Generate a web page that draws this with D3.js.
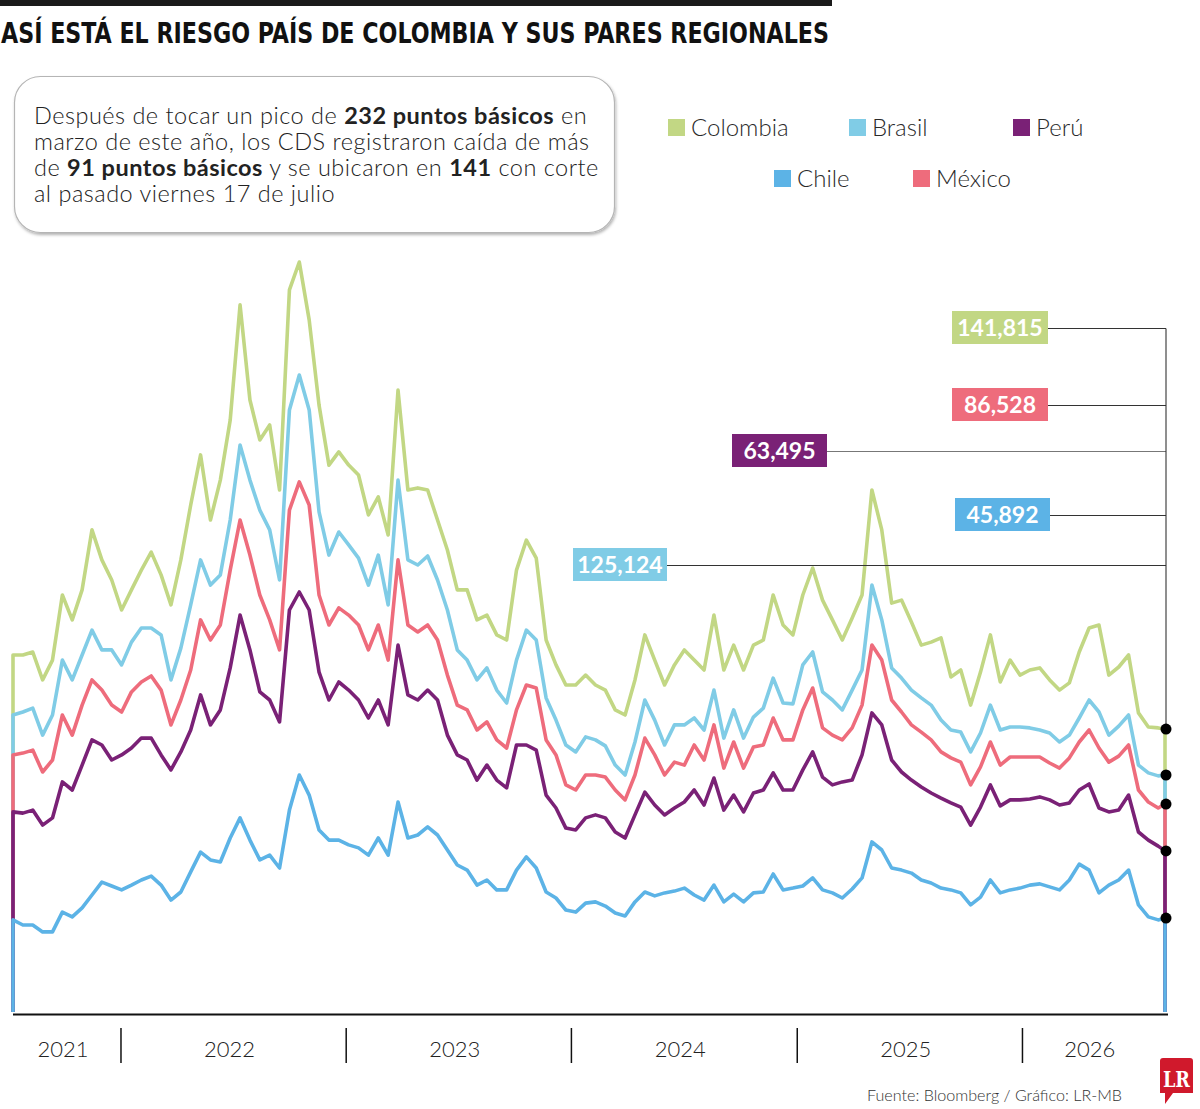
<!DOCTYPE html>
<html>
<head>
<meta charset="utf-8">
<script src="https://cdn.jsdelivr.net/npm/d3@7"></script>
<style>
  body { margin: 0; background: #fff; }
  svg { display: block; }
  .light { font-family: Lato, "Open Sans", sans-serif; font-weight: 300; fill: #222; }
</style>
</head>
<body>
<div id="chart"></div>
<script>
// series values, one every 16 days from 10 Jul 2021, last one on the closing date
const colombia = [119, 119, 120, 110.7, 117.3, 139, 130.7, 140.7, 160.7, 150.7,
  144, 134, 140.7, 147.3, 153.3, 145.7, 135.7, 150.7, 169, 185.7,
  164, 177.3, 197.3, 235.7, 204, 190.7, 195.7, 174, 240.7, 250,
  230.7, 202.3, 182.3, 186.7, 182.3, 179, 165.7, 171.7, 159, 207.3,
  174, 174.7, 174, 164, 154, 140.7, 140.7, 130.7, 132.3, 125.7,
  124, 147.3, 157.3, 151.3, 124, 115.7, 109, 109, 112.3, 109,
  107.3, 100.7, 99, 110.7, 125.7, 117.3, 109, 115.7, 120.7, 117.3,
  114, 132.3, 114, 122.3, 114, 122.3, 124, 139, 129, 125.7,
  139, 148, 137.3, 130.7, 124, 131.3, 139, 174, 160.7, 136.3,
  137.3, 130, 122.3, 123.3, 124.7, 111.7, 114, 102.3, 113.3, 125.7,
  110, 117.3, 112.3, 114, 114.7, 110.7, 107.3, 109.7, 120, 128,
  129, 112.3, 115, 119, 99.7, 95, 94.7, 94.3];

const brasil = [99, 100, 101.3, 92.3, 99, 117.3, 110.7, 119, 127.3, 120.7,
  120.7, 115.7, 123.3, 128, 128, 125.7, 110.7, 121.3, 135.7, 150.7,
  142.3, 145.7, 164, 189, 177.3, 167.3, 160.7, 144, 200.7, 212.3,
  200.7, 166.7, 152.3, 160, 155.7, 151.3, 142.3, 152.3, 135.7, 177.3,
  150.7, 149, 152, 144, 134, 120.7, 117.3, 110.7, 114.7, 107.3,
  103, 117.3, 127.3, 124, 104.7, 97.3, 89, 86.7, 91.7, 90.7,
  88.7, 82.3, 79, 90, 104, 97.3, 89, 95.7, 95.7, 98,
  94, 107.3, 91.3, 100.7, 91.3, 98.3, 101.3, 111.3, 103, 102.7,
  115.7, 120, 106.7, 104, 100.7, 107.3, 114, 142.3, 130.7, 114.7,
  111.3, 107.3, 104.7, 102.3, 97.3, 94, 93.3, 86.7, 93, 102.3,
  94, 95, 95, 94.7, 94, 93, 90, 92.3, 98, 104,
  100, 92.3, 95.3, 99, 82.3, 79.7, 78.7, 79];

const mexico = [85.7, 86.3, 87.3, 80, 84, 99, 92.3, 102.3, 110.7, 107.3,
  102.3, 100, 106.7, 110, 112, 107.3, 95.7, 104, 114, 130.7,
  124, 129, 147.3, 164, 152.3, 139, 130.7, 120.7, 167.3, 176.7,
  169, 139, 129, 134.7, 132.3, 129, 120.7, 129, 117.3, 150.7,
  129, 126.7, 129, 124, 112.3, 102.3, 100.7, 94, 96.7, 90.7,
  88, 100.7, 109, 108, 90.7, 85.7, 75.7, 74, 79, 79,
  78.3, 74, 70.7, 79, 91.3, 85.7, 79, 83.3, 82.3, 89,
  84, 95.7, 81.3, 90, 81.3, 88.3, 89, 98, 90.7, 90.7,
  100.7, 108, 94.7, 92.3, 90.7, 94.7, 102.3, 122.3, 117.3, 104,
  100, 95.7, 93.3, 90.7, 86.7, 84.7, 83.3, 75.7, 81.7, 90,
  82.3, 85, 85, 85, 85, 83, 81.3, 84.7, 90, 94,
  88, 83.3, 85.3, 89, 74, 70, 68, 69.3];

const peru = [66.7, 66.3, 67.3, 62.3, 64.7, 76.7, 74, 82.3, 90.7, 89,
  84, 85.7, 88, 91.3, 91.3, 85.7, 80.7, 86.7, 94, 105.7,
  95.7, 100.7, 114.7, 132.3, 120.7, 106.7, 104, 96.7, 134, 140,
  134, 113.3, 104, 110, 107.3, 104, 98, 104, 95.7, 122.3,
  105.7, 104, 107.3, 104, 92.3, 85.7, 84, 77.3, 82.3, 77.3,
  74.7, 89, 89, 87.3, 72.3, 68, 61.3, 60.7, 64.7, 65.7,
  64.7, 60, 58, 65.7, 73.3, 69, 65.7, 68, 70, 74,
  69, 78, 67.3, 72.3, 66.7, 73, 74, 79.7, 74, 74,
  80.7, 86.7, 78.3, 75.7, 76.7, 77.3, 85.7, 99.7, 95.7, 84,
  80, 77.3, 75, 73, 71.3, 69.7, 68.3, 62.3, 68.3, 75.7,
  68.7, 70.7, 70.7, 71, 71.7, 70.7, 69, 69.7, 74, 76,
  68, 66.7, 67.3, 72.3, 60, 57.3, 55.3, 53.7];

const chile = [30.7, 29, 29, 26.7, 26.7, 33.3, 31.7, 34.7, 39, 43.3,
  42, 40.7, 42.3, 44, 45.3, 42.3, 37.3, 40, 46.7, 53.3,
  50.7, 50, 58, 64.7, 57.3, 50.7, 52.3, 48, 67.3, 79,
  72.3, 60.7, 57.3, 57.3, 55.7, 54.7, 52.3, 58, 52.3, 70,
  58, 59, 61.7, 59, 54, 49, 47.3, 42.3, 44, 40.7,
  40.7, 47.3, 51.7, 48, 40, 38, 34, 33.3, 36.3, 36.7,
  35.3, 33, 32, 36.7, 40, 38.7, 39.7, 40.3, 41.3, 39,
  37.3, 42.3, 36.7, 39.3, 36.7, 39.7, 40, 46, 40.7, 41.3,
  42, 44.7, 40.7, 39.7, 38, 41, 44.7, 56.7, 54, 48,
  47.3, 46.3, 44, 43, 41.3, 40.7, 39.7, 35.7, 38.3, 44,
  39.7, 40.7, 41.3, 42.3, 42.7, 41.7, 40.7, 44, 49.3, 47.3,
  39.7, 42.3, 44, 47.3, 35.7, 31.7, 30.7, 31.3];

const startDate = new Date(2021, 6, 10);
const endDate = new Date(2026, 7, 20);
const dates = d3.range(colombia.length - 1).map(i => d3.timeDay.offset(startDate, i * 16)).concat([endDate]);

const years = [2021, 2022, 2023, 2024, 2025, 2026];
const legendNames = ["Colombia", "Brasil", "Perú", "Chile", "México"];
const endLabels = ["141,815", "86,528", "63,495", "45,892", "125,124"];

const C = {
  colombia: "#c2d784",
  brasil: "#80cce6",
  peru: "#7a2176",
  chile: "#5cb3e6",
  mexico: "#ee6c7c"
};

const W = 1200, H = 1109;
const svg = d3.select("#chart").append("svg").attr("width", W).attr("height", H);

const defs = svg.append("defs");
const f = defs.append("filter").attr("id", "shadow").attr("x", "-5%").attr("y", "-5%").attr("width", "110%").attr("height", "120%");
f.append("feDropShadow").attr("dx", 1).attr("dy", 2).attr("stdDeviation", 1.5).attr("flood-color", "#000").attr("flood-opacity", 0.3);

// header
svg.append("rect").attr("x", 0).attr("y", 0).attr("width", 832).attr("height", 6).attr("fill", "#1a1a1a");
svg.append("text")
  .attr("x", 1).attr("y", 43)
  .attr("textLength", 828).attr("lengthAdjust", "spacingAndGlyphs")
  .style("font-family", "'Liberation Sans Narrow', 'DejaVu Sans Condensed', sans-serif")
  .style("font-weight", 700).style("font-size", "29px").style("fill", "#111")
  .text("ASÍ ESTÁ EL RIESGO PAÍS DE COLOMBIA Y SUS PARES REGIONALES");

// text box
svg.append("rect").attr("x", 14.5).attr("y", 76.5).attr("width", 600).attr("height", 156).attr("rx", 26)
  .attr("fill", "#fff").attr("stroke", "#b5b5b5").attr("stroke-width", 1.2).attr("filter", "url(#shadow)");

const boxLines = [
  [["Después de tocar un pico de ", 300], ["232 puntos básicos", 700], [" en", 300]],
  [["marzo de este año, los CDS registraron caída de más", 300]],
  [["de ", 300], ["91 puntos básicos", 700], [" y se ubicaron en ", 300], ["141", 700], [" con corte", 300]],
  [["al pasado viernes 17 de julio", 300]]
];
boxLines.forEach((parts, i) => {
  const t = svg.append("text").attr("class", "light")
    .attr("x", 34).attr("y", 124 + i * 26)
    .style("font-size", "23.5px").style("letter-spacing", "0.5px");
  parts.forEach(p => t.append("tspan").style("font-weight", p[1]).text(p[0]));
});

// legend
const legendPos = [[668, 136], [849, 136], [1013, 136], [774, 187], [913, 187]];
const legendColors = [C.colombia, C.brasil, C.peru, C.chile, C.mexico];
legendNames.forEach((n, i) => {
  const [lx, ly] = legendPos[i];
  svg.append("rect").attr("x", lx).attr("y", ly - 17).attr("width", 17).attr("height", 17).attr("fill", legendColors[i]);
  svg.append("text").attr("class", "light").attr("x", lx + 23).attr("y", ly)
    .style("font-size", "24px").style("fill", "#2a2a2a").text(n);
});

// scales
const x = d3.scaleTime().domain([startDate, endDate]).range([13, 1165]);
const y = d3.scaleLinear().domain([0, 260]).range([1012, 232]);

const line = d3.line().x(d => x(d[0])).y(d => y(d[1]));

const series = [
  { name: "Colombia", color: C.colombia, values: colombia },
  { name: "Brasil", color: C.brasil, values: brasil },
  { name: "México", color: C.mexico, values: mexico },
  { name: "Perú", color: C.peru, values: peru },
  { name: "Chile", color: C.chile, values: chile }
];

series.forEach(s => {
  const pts = [[dates[0], 0]].concat(s.values.map((v, i) => [dates[i], v])).concat([[endDate, 0]]);
  svg.append("path")
    .attr("d", line(pts))
    .attr("fill", "none")
    .attr("stroke", s.color)
    .attr("stroke-width", 3.6)
    .attr("stroke-linejoin", "round");
});

// base line
svg.append("line").attr("x1", 13).attr("x2", 1168).attr("y1", 1014.5).attr("y2", 1014.5)
  .attr("stroke", "#111").attr("stroke-width", 2);

// end labels
const xEnd = x(endDate) + 1;
const labelBoxes = [
  { x: 952, y: 311, w: 96, color: C.colombia },
  { x: 952, y: 388, w: 96, color: C.mexico },
  { x: 732, y: 434, w: 95, color: C.peru },
  { x: 955, y: 498, w: 95, color: C.chile },
  { x: 573, y: 548, w: 94, color: C.brasil }
];
endLabels.forEach((lab, i) => {
  const b = labelBoxes[i];
  const ly = b.y + 17.5;
  svg.append("line").attr("x1", b.x + b.w).attr("x2", xEnd).attr("y1", ly).attr("y2", ly)
    .attr("stroke", i === 2 ? "#777" : "#333").attr("stroke-width", 1.1);
  svg.append("rect").attr("x", b.x).attr("y", b.y).attr("width", b.w).attr("height", 33).attr("fill", b.color);
  svg.append("text").attr("x", b.x + b.w / 2).attr("y", b.y + 25)
    .attr("text-anchor", "middle")
    .style("font-family", "Lato, 'Open Sans', sans-serif").style("font-weight", 700)
    .style("font-size", "23px").style("fill", "#fff").text(lab);
});
svg.append("line").attr("x1", xEnd).attr("x2", xEnd)
  .attr("y1", labelBoxes[0].y + 17.5).attr("y2", y(colombia[colombia.length - 1]))
  .attr("stroke", "#333").attr("stroke-width", 1.1);

series.forEach(s => {
  svg.append("circle").attr("cx", xEnd).attr("cy", y(s.values[s.values.length - 1])).attr("r", 5.5).attr("fill", "#000");
});

// year axis
years.forEach((yr, i) => {
  const a = Math.max(x(new Date(yr, 0, 1)), x(startDate));
  const b = Math.min(x(new Date(yr + 1, 0, 1)), x(endDate));
  svg.append("text").attr("class", "light")
    .attr("x", (a + b) / 2 - 4).attr("y", 1057)
    .attr("text-anchor", "middle")
    .style("font-size", "22px").style("fill", "#222").text(yr);
  if (i > 0) {
    svg.append("line").attr("x1", x(new Date(yr, 0, 1))).attr("x2", x(new Date(yr, 0, 1)))
      .attr("y1", 1028).attr("y2", 1063).attr("stroke", "#111").attr("stroke-width", 1.5);
  }
});

// footer
svg.append("text").attr("class", "light").attr("x", 867).attr("y", 1101)
  .attr("textLength", 255).attr("lengthAdjust", "spacingAndGlyphs")
  .style("font-size", "16px").style("fill", "#333").text("Fuente: Bloomberg / Gráfico: LR-MB");

const logo = svg.append("g");
logo.append("path")
  .attr("d", "M1160,1061 Q1160,1058 1163,1058 L1190,1058 Q1193,1058 1193,1061 L1193,1093 L1173,1093 L1165,1104 L1165,1093 L1160,1093 Z")
  .attr("fill", "#d0192c");
logo.append("text").attr("x", 1176.5).attr("y", 1087).attr("text-anchor", "middle")
  .attr("textLength", 27).attr("lengthAdjust", "spacingAndGlyphs")
  .style("font-family", "'DejaVu Serif', 'Liberation Serif', serif").style("font-weight", 700)
  .style("font-size", "22px").style("fill", "#fff").text("LR");
</script>
</body>
</html>
